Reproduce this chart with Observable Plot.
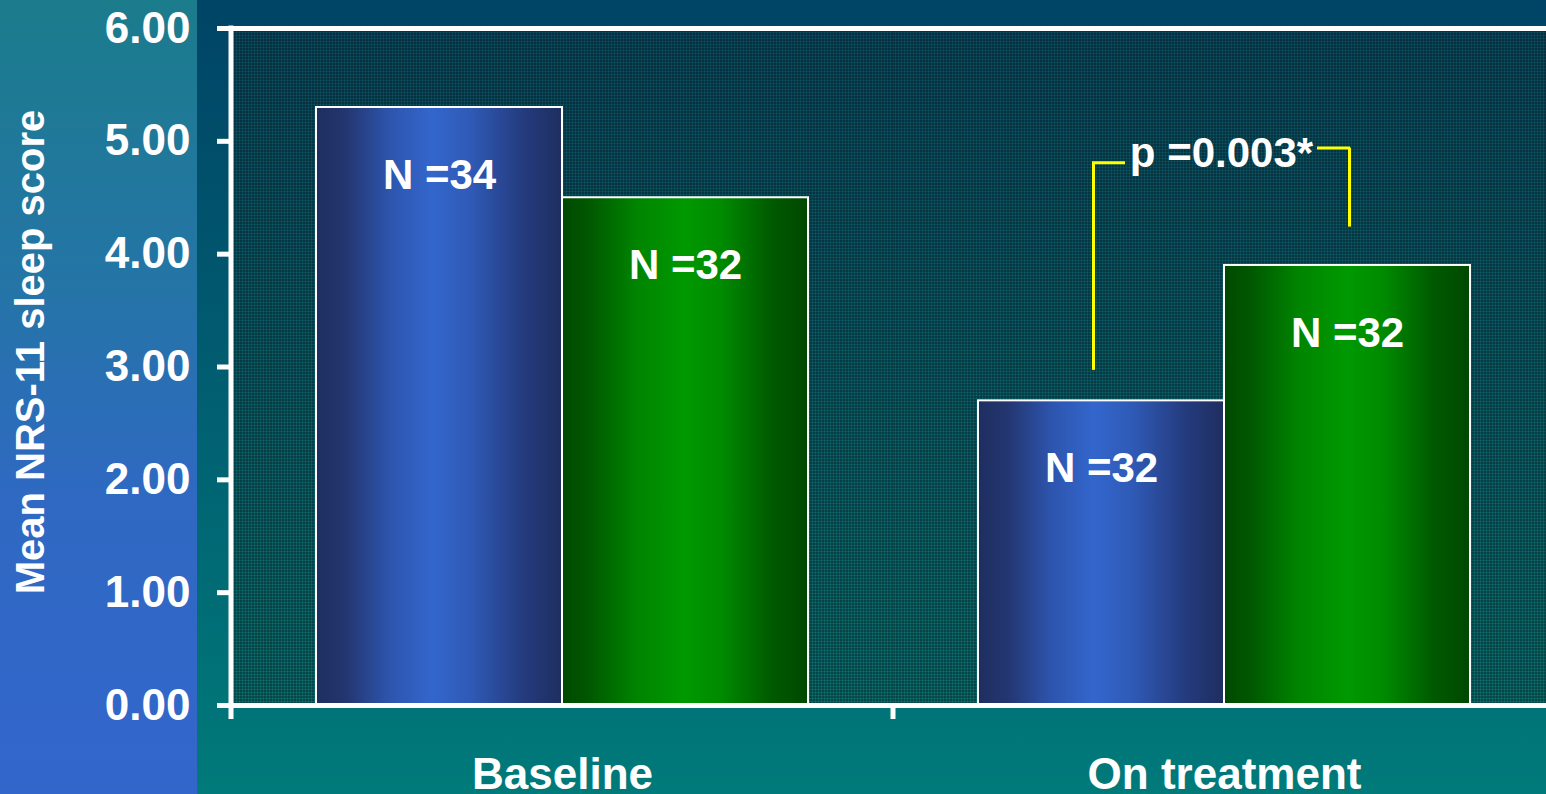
<!DOCTYPE html>
<html>
<head>
<meta charset="utf-8">
<script src="https://cdn.jsdelivr.net/npm/d3@7"></script>
<script src="https://cdn.jsdelivr.net/npm/@observablehq/plot@0.6"></script>
<style>
  html, body { margin: 0; padding: 0; background: #004466; overflow: hidden; }
  #chart {
    position: relative; width: 1546px; height: 794px; overflow: hidden;
    background:
      linear-gradient(180deg, #1b7c8c 0%, #2475a6 35%, #2f69c2 62%, #3366cc 100%) 0 0 / 197px 100% no-repeat,
      linear-gradient(180deg, #004466 0%, #015c70 45%, #007a7a 100%);
  }
  #chart svg {
    display: block; max-width: none !important; height: 794px;
    font-family: "Liberation Sans", Arial, sans-serif; font-weight: bold;
  }
  #chart g[aria-label="y-axis tick label"] { font-size: 44px; }
  #chart g[aria-label="fx-axis tick label"] { font-size: 44px; }
</style>
</head>
<body>
<div id="chart"></div>
<script>
// Mean NRS-11 sleep score, two groups at baseline and on treatment
const categories = ["Baseline", "On treatment"];
const groups = ["group1", "group2"];
const group1Values = [5.3, 2.7];
const group2Values = [4.5, 3.9];
const group1N = [34, 32];
const group2N = [32, 32];
const yTicks = [0, 1, 2, 3, 4, 5, 6];
const yLabel = "Mean NRS-11 sleep score";

// significance bracket over the on-treatment pair
const pLabel = "p =0.003*";
const pCategory = "On treatment";
const pLabelValue = 4.89;
const bracketLeft = [{group: "group1", from: 2.97, to: 4.81}];
const bracketRight = [{group: "group2", from: 4.24, to: 4.94}];

const rows = categories.flatMap((category, i) => [
  {category, group: "group1", value: group1Values[i], n: group1N[i]},
  {category, group: "group2", value: group2Values[i], n: group2N[i]}
]);

const white = "white";
const yellow = "#ffff00";

const chart = Plot.plot({
  width: 1555,
  height: 794,
  marginLeft: 231,
  marginRight: 0,
  marginTop: 28,
  marginBottom: 89,
  style: {background: "transparent", color: white, overflow: "visible"},
  fx: {domain: categories, padding: 0, label: null},
  x: {domain: groups, paddingInner: 0, paddingOuter: 0.3455, axis: null},
  y: {domain: [0, 6]},
  color: {type: "ordinal", domain: groups, range: ["url(#barBlue)", "url(#barGreen)"]},
  marks: [
    // textured plotting area
    Plot.frame({fill: "url(#plotShade)", stroke: "none"}),
    Plot.frame({fill: "url(#plotMesh)", stroke: "none"}),
    Plot.barY(rows, {fx: "category", x: "group", y: "value", fill: "group", stroke: white, strokeWidth: 2}),
    Plot.text(rows, {
      fx: "category", x: "group", y: "value", text: d => `N =${d.n}`,
      dy: 68, fill: white, fontSize: 42, fontWeight: "bold"
    }),
    Plot.ruleY([0], {stroke: white, strokeWidth: 5}),
    Plot.ruleY([6], {stroke: white, strokeWidth: 5}),
    // bracket
    Plot.ruleX(bracketLeft, {fx: () => pCategory, x: "group", y1: "from", y2: "to", stroke: yellow, strokeWidth: 3, dx: -8}),
    Plot.ruleX(bracketRight, {fx: () => pCategory, x: "group", y1: "from", y2: "to", stroke: yellow, strokeWidth: 3, dx: 2}),
    Plot.tickY(bracketLeft, {fx: () => pCategory, x: "group", y: "to", stroke: yellow, strokeWidth: 3, insetLeft: 114, insetRight: 99}),
    Plot.tickY(bracketRight, {fx: () => pCategory, x: "group", y: "to", stroke: yellow, strokeWidth: 3, insetLeft: 93, insetRight: 120}),
    Plot.text([pLabel], {
      fx: () => pCategory, y: () => pLabelValue, text: d => d, dx: -3,
      fill: white, fontSize: 42, fontWeight: "bold"
    }),
    Plot.axisY({
      ticks: yTicks, tickFormat: d => d.toFixed(2), tickSize: 14, tickPadding: 27,
      stroke: white, fill: white, strokeWidth: 5, fontSize: 44, fontWeight: "bold",
      label: null
    }),
    // y-axis title, drawn in the first panel only
    Plot.text([yLabel], {
      fx: () => categories[0], frameAnchor: "left", rotate: -90,
      textAnchor: "middle", lineAnchor: "top",
      dx: -216, dy: -15, text: d => d, fill: white, fontSize: 40, fontWeight: "bold"
    }),
    Plot.axisFx({
      anchor: "bottom", tickSize: 0, tickPadding: 52, label: null,
      fill: white, fontSize: 44, fontWeight: "bold"
    })
  ]
});

// gradients and mesh referenced by the marks above
const svg = d3.select(chart);
const defs = svg.insert("defs", ":first-child");

function horizontalGradient(id, stops) {
  const g = defs.append("linearGradient").attr("id", id)
    .attr("x1", 0).attr("x2", 1).attr("y1", 0).attr("y2", 0);
  stops.forEach(([o, c]) => g.append("stop").attr("offset", o).attr("stop-color", c));
}
horizontalGradient("barBlue", [
  [0, "#1e2e60"], [0.12, "#233670"], [0.3, "#2d55ae"], [0.47, "#3366cc"],
  [0.62, "#2f5bb8"], [0.85, "#243a7c"], [1, "#1e2e60"]
]);
horizontalGradient("barGreen", [
  [0, "#004800"], [0.12, "#005a00"], [0.3, "#008400"], [0.5, "#009900"],
  [0.65, "#008a00"], [0.85, "#005a00"], [1, "#004800"]
]);

const shade = defs.append("linearGradient").attr("id", "plotShade")
  .attr("x1", 0).attr("x2", 0).attr("y1", 0).attr("y2", 1);
shade.append("stop").attr("offset", 0).attr("stop-color", "#0a5068");
shade.append("stop").attr("offset", 1).attr("stop-color", "#0a7676");

const mesh = defs.append("pattern").attr("id", "plotMesh")
  .attr("patternUnits", "userSpaceOnUse").attr("width", 3).attr("height", 3);
mesh.append("rect").attr("width", 3).attr("height", 1).attr("fill", "rgba(0,0,0,0.45)");
mesh.append("rect").attr("width", 1).attr("height", 3).attr("fill", "rgba(0,0,0,0.45)");

// vertical axis line and the category-boundary ticks on the baseline
const fx = chart.scale("fx");
const y = chart.scale("y");
const axisG = svg.append("g").attr("stroke", white).attr("stroke-width", 5);
axisG.append("line")
  .attr("x1", fx.apply(categories[0])).attr("x2", fx.apply(categories[0]))
  .attr("y1", y.apply(6) - 2.5).attr("y2", y.apply(0) + 14);
categories.slice(1).forEach(c => {
  axisG.append("line")
    .attr("x1", fx.apply(c)).attr("x2", fx.apply(c))
    .attr("y1", y.apply(0)).attr("y2", y.apply(0) + 14);
});

document.getElementById("chart").appendChild(chart);
</script>
</body>
</html>
